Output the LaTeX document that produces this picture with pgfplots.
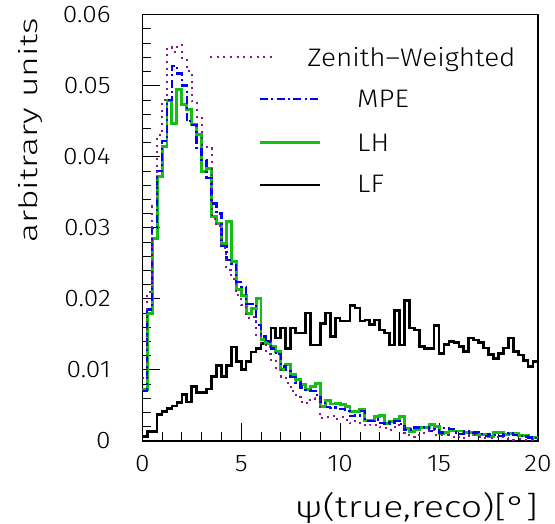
\documentclass[border=0pt]{standalone}
\usepackage{fontspec}
\setmainfont{Fira Sans Light}[FakeStretch=1.1]
\newfontfamily\fY{Fira Sans Light}[FakeStretch=1.4]
\newfontfamily\fX{Fira Sans Light}[FakeStretch=1.25]
\usepackage{pgfplots}
\usepackage{pgfplotstable}
\pgfplotsset{compat=1.18}
\definecolor{zencol}{RGB}{140,20,140}
\definecolor{mpecol}{RGB}{0,0,255}
\definecolor{lhcol}{RGB}{20,190,20}
\pgfplotstableread{
x zen mpe lh lf
0.00 0.0088 0.0070 0.0072 0.0006
0.25 0.0210 0.0185 0.0180 0.0013
0.50 0.0330 0.0300 0.0285 0.0013
0.75 0.0430 0.0380 0.0372 0.0037
1.00 0.0480 0.0422 0.0414 0.0041
1.25 0.0554 0.0480 0.0479 0.0046
1.50 0.0548 0.0528 0.0447 0.0049
1.75 0.0557 0.0517 0.0495 0.0054
2.00 0.0536 0.0500 0.0473 0.0065
2.25 0.0520 0.0450 0.0467 0.0055
2.50 0.0478 0.0445 0.0445 0.0077
2.75 0.0456 0.0410 0.0431 0.0068
3.00 0.0416 0.0395 0.0379 0.0068
3.25 0.0412 0.0370 0.0384 0.0073
3.50 0.0313 0.0334 0.0316 0.0091
3.75 0.0302 0.0320 0.0306 0.0106
4.00 0.0271 0.0274 0.0278 0.0091
4.25 0.0241 0.0255 0.0309 0.0106
4.50 0.0228 0.0248 0.0252 0.0132
4.75 0.0205 0.0224 0.0213 0.0112
5.00 0.0191 0.0217 0.0205 0.0101
5.25 0.0173 0.0193 0.0180 0.0112
5.50 0.0175 0.0193 0.0186 0.0125
5.75 0.0149 0.0163 0.0201 0.0130
6.00 0.0135 0.0147 0.0143 0.0137
6.25 0.0123 0.0140 0.0137 0.0140
6.50 0.0114 0.0130 0.0133 0.0159
6.75 0.0100 0.0122 0.0126 0.0145
7.00 0.0090 0.0105 0.0100 0.0159
7.25 0.0082 0.0100 0.0107 0.0130
7.50 0.0070 0.0090 0.0093 0.0159
7.75 0.0062 0.0082 0.0086 0.0152
8.00 0.0055 0.0075 0.0079 0.0152
8.25 0.0053 0.0072 0.0072 0.0180
8.50 0.0060 0.0070 0.0076 0.0135
8.75 0.0058 0.0065 0.0081 0.0135
9.00 0.0032 0.0055 0.0048 0.0165
9.25 0.0034 0.0048 0.0057 0.0180
9.50 0.0035 0.0046 0.0052 0.0147
9.75 0.0031 0.0047 0.0053 0.0173
10.00 0.0033 0.0045 0.0051 0.0169
10.25 0.0030 0.0042 0.0048 0.0169
10.50 0.0025 0.0035 0.0041 0.0191
10.75 0.0028 0.0036 0.0041 0.0187
11.00 0.0023 0.0042 0.0044 0.0169
11.25 0.0022 0.0028 0.0029 0.0170
11.50 0.0023 0.0028 0.0029 0.0164
11.75 0.0022 0.0030 0.0035 0.0170
12.00 0.0019 0.0025 0.0036 0.0156
12.25 0.0018 0.0024 0.0025 0.0152
12.50 0.0015 0.0026 0.0027 0.0135
12.75 0.0022 0.0028 0.0030 0.0184
13.00 0.0020 0.0024 0.0035 0.0135
13.25 0.0011 0.0015 0.0018 0.0198
13.50 0.0008 0.0016 0.0013 0.0159
13.75 0.0006 0.0019 0.0016 0.0156
14.00 0.0011 0.0018 0.0019 0.0133
14.25 0.0014 0.0019 0.0019 0.0130
14.50 0.0016 0.0014 0.0023 0.0130
14.75 0.0009 0.0017 0.0020 0.0162
15.00 0.0008 0.0012 0.0011 0.0123
15.25 0.0008 0.0018 0.0012 0.0136
15.50 0.0006 0.0017 0.0014 0.0140
15.75 0.0005 0.0012 0.0014 0.0139
16.00 0.0006 0.0010 0.0014 0.0133
16.25 0.0004 0.0013 0.0012 0.0126
16.50 0.0008 0.0011 0.0012 0.0145
16.75 0.0008 0.0012 0.0009 0.0142
17.00 0.0006 0.0010 0.0009 0.0139
17.25 0.0004 0.0007 0.0009 0.0131
17.50 0.0004 0.0009 0.0006 0.0122
17.75 0.0005 0.0008 0.0012 0.0116
18.00 0.0006 0.0007 0.0012 0.0123
18.25 0.0004 0.0010 0.0009 0.0131
18.50 0.0003 0.0011 0.0010 0.0145
18.75 0.0002 0.0008 0.0010 0.0126
19.00 0.0003 0.0007 0.0008 0.0121
19.25 0.0002 0.0006 0.0008 0.0113
19.50 0.0001 0.0005 0.0005 0.0105
19.75 0.0001 0.0004 0.0005 0.0112
20.00 0.0001 0.0004 0.0005 0.0112
}\histdata
\begin{document}
\begin{tikzpicture}
\begin{axis}[
  scale only axis,
  width=296.8pt, height=319.7pt,
  xmin=0, xmax=20, ymin=0, ymax=0.06,
  axis line style={line width=1pt},
  xtick={0,5,10,15,20},
  xticklabels={0,5,10,15,20},
  ytick={0,0.01,0.02,0.03,0.04,0.05,0.06},
  yticklabels={0,0.01,0.02,0.03,0.04,0.05,0.06},
  scaled y ticks=false,
  minor x tick num=4,
  minor y tick num=4,
  tick align=inside,
  xtick pos=left, ytick pos=left,
  major tick length=13.5pt,
  minor tick length=6.75pt,
  every tick/.style={black, line width=0.6pt},
  /pgf/number format/assume math mode=true,
  ticklabel style={font=\fontsize{18}{18}\selectfont, inner sep=0pt},
  xticklabel style={anchor=north, yshift=-10.5pt},
  yticklabel style={anchor=east, xshift=-23.5pt},
  xlabel={\fX\fontsize{22.5}{22.5}\selectfont ψ(true,reco)[°]},
  xlabel style={at={(axis description cs:1,-0.1806)}, anchor=base east, inner sep=0pt},
  ylabel={\fY\fontsize{19}{19}\selectfont arbitrary units},
  ylabel style={at={(axis description cs:-0.265,0.992)}, anchor=base east, inner sep=0pt},
  clip=true,
]
\addplot[const plot, black, line width=2pt] table[x=x, y=lf] {\histdata};
\addplot[const plot, lhcol, line width=2.2pt] table[x=x, y=lh] {\histdata};
\addplot[const plot, mpecol, line width=1.8pt, dash pattern=on 6pt off 2.5pt on 1.5pt off 2.5pt] table[x=x, y=mpe] {\histdata};
\addplot[const plot, zencol, line width=1.5pt, dash pattern=on 1.5pt off 3.5pt] table[x=x, y=zen] {\histdata};
% legend
\draw[zencol, line width=1.5pt, dash pattern=on 1.5pt off 3.5pt] (axis cs:3.42,0.0540) -- (axis cs:6.56,0.0540);
\node[anchor=base west, inner sep=0pt, font=\fontsize{19}{19}\selectfont] at (axis cs:8.33,0.0527) {Zenith–Weighted};
\draw[mpecol, line width=1.8pt, dash pattern=on 6pt off 2.5pt on 1.5pt off 2.5pt] (axis cs:5.95,0.0481) -- (axis cs:8.98,0.0481);
\node[anchor=base west, inner sep=0pt, font=\fontsize{19}{19}\selectfont] at (axis cs:10.85,0.0469) {MPE};
\draw[lhcol, line width=2.2pt] (axis cs:5.95,0.0420) -- (axis cs:8.98,0.0420);
\node[anchor=base west, inner sep=0pt, font=\fontsize{19}{19}\selectfont] at (axis cs:10.85,0.0408) {LH};
\draw[black, line width=2pt] (axis cs:5.95,0.0360) -- (axis cs:8.98,0.0360);
\node[anchor=base west, inner sep=0pt, font=\fontsize{19}{19}\selectfont] at (axis cs:10.85,0.0349) {LF};
\end{axis}
\pgfresetboundingbox
\path[use as bounding box] ([shift={(-106.7pt,-62.25pt)}]current axis.south west) rectangle ([shift={(12.75pt,11pt)}]current axis.north east);
\end{tikzpicture}
\end{document}
